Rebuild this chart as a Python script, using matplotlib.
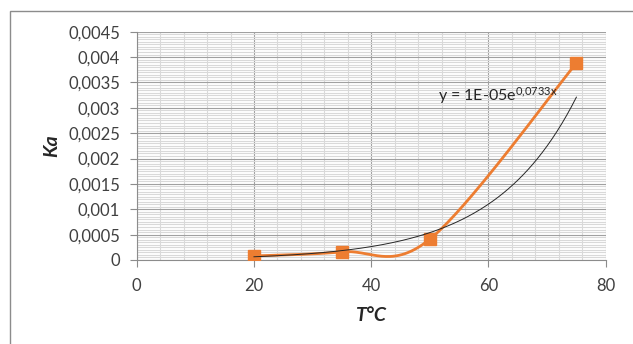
import numpy as np
import matplotlib
matplotlib.use("Agg")
import matplotlib.pyplot as plt
from matplotlib.patches import Rectangle

# Data
temps = [20, 35, 50, 75]
ka = [0.00008, 0.00016, 0.00041, 0.00388]
x_ticks = [0, 20, 40, 60, 80]
y_ticks = [0, 0.0005, 0.001, 0.0015, 0.002, 0.0025, 0.003, 0.0035, 0.004, 0.0045]
y_tick_labels = ['0', '0,0005', '0,001', '0,0015', '0,002', '0,0025',
                 '0,003', '0,0035', '0,004', '0,0045']
trend_label = r'y = 1E-05e$^{\mathrm{0{,}0733x}}$'

plt.rcParams['font.family'] = ['Lato', 'DejaVu Sans']
plt.rcParams['mathtext.fontset'] = 'custom'
plt.rcParams['mathtext.rm'] = 'Lato'
plt.rcParams['mathtext.it'] = 'Lato:italic'

def excel_smooth(xs, ys, n=60):
    P = np.column_stack([xs, ys]).astype(float)
    m = len(P)
    out = []
    for i in range(m - 1):
        p0 = P[i - 1] if i > 0 else P[i]
        p1 = P[i]
        p2 = P[i + 1]
        p3 = P[i + 2] if i + 2 < m else P[i + 1]
        c1 = p1 + (p2 - p0) / 6.0
        c2 = p2 - (p3 - p1) / 6.0
        t = np.linspace(0, 1, n)[:, None]
        seg = ((1 - t) ** 3 * p1 + 3 * (1 - t) ** 2 * t * c1
               + 3 * (1 - t) * t ** 2 * c2 + t ** 3 * p2)
        out.append(seg if i == 0 else seg[1:])
    pts = np.vstack(out)
    return pts[:, 0], pts[:, 1]

fig = plt.figure(figsize=(6.33, 3.44), dpi=100)
# chart-area border (extends past right and bottom edges)
fig.patches.append(Rectangle((9.5 / 633, -0.1), 1.2, 1 - 11.5 / 344 + 0.1,
                             transform=fig.transFigure, fill=False,
                             edgecolor='#8c8c8c', linewidth=1.0))

ax = fig.add_axes([136.7 / 633, 1 - 260 / 344, (605.7 - 136.7) / 633, (260 - 31.7) / 344])
ax.set_xlim(0, 80)
ax.set_ylim(0, 0.0045)

ax.set_xticks(x_ticks)
ax.set_xticklabels([str(v) for v in x_ticks])
ax.set_yticks(y_ticks)
ax.set_yticklabels(y_tick_labels)
ax.set_xticks(np.arange(0, 80.1, 4), minor=True)
ax.set_yticks(np.arange(0, 0.00451, 0.00005), minor=True)

ax.grid(which='minor', color='#d9d9d9', linewidth=0.8)
ax.grid(which='major', color='#a0a0a0', linewidth=0.8)
ax.set_axisbelow(True)
for s in ['top', 'right']:
    ax.spines[s].set_visible(False)
for s in ['left', 'bottom']:
    ax.spines[s].set_color('#8c8c8c')
    ax.spines[s].set_linewidth(0.8)
ax.tick_params(which='major', length=5, color='#8c8c8c', labelsize=12,
               labelcolor='#404040')
ax.tick_params(axis='y', pad=7)
ax.tick_params(axis='x', pad=8)
ax.tick_params(which='minor', length=0)

# smoothed data line
sx, sy = excel_smooth(temps, ka)
ax.plot(sx, sy, color='#ED7D31', linewidth=2.0, zorder=3)
ax.plot(temps, ka, linestyle='none', marker='s', markersize=8,
        color='#ED7D31', zorder=4)

# exponential trendline
b, ln_a = np.polyfit(temps, np.log(ka), 1)
tx = np.linspace(min(temps), max(temps), 200)
ax.plot(tx, np.exp(ln_a) * np.exp(b * tx), color='#262626', linewidth=0.7, zorder=5)
ax.text(51.4, 0.00325, trend_label, fontsize=11.5, color='#262626',
        ha='left', va='center')

ax.set_ylabel('Ka', fontsize=14, fontweight='bold', fontstyle='italic',
              color='#262626', labelpad=6)
ax.set_xlabel('T°C', fontsize=14, fontweight='bold', fontstyle='italic',
              color='#262626', labelpad=9)

fig.savefig('out.png', dpi=100)
